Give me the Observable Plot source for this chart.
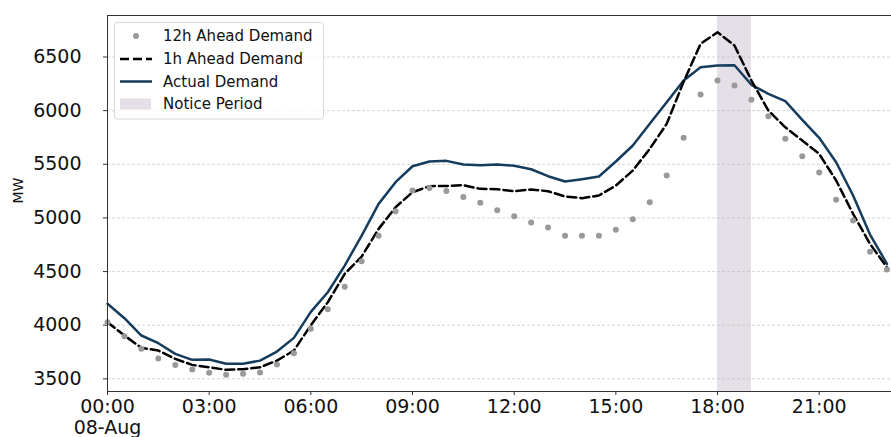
<!DOCTYPE html>
<html><head><meta charset="utf-8">
<script src="https://cdn.jsdelivr.net/npm/d3@7"></script>
<script src="https://cdn.jsdelivr.net/npm/@observablehq/plot@0.6"></script>
<style>body{margin:0;background:#fff;} #chart{width:891px;height:437px;}</style>
</head><body><div id="chart"></div>
<script>
const day = "2019-08-08";
const times = ["00:00","00:30","01:00","01:30","02:00","02:30","03:00","03:30","04:00","04:30",
  "05:00","05:30","06:00","06:30","07:00","07:30","08:00","08:30","09:00","09:30",
  "10:00","10:30","11:00","11:30","12:00","12:30","13:00","13:30","14:00","14:30",
  "15:00","15:30","16:00","16:30","17:00","17:30","18:00","18:30","19:00","19:30",
  "20:00","20:30","21:00","21:30","22:00","22:30","23:00"];
const ahead12 = [4028,3897,3780,3689,3630,3587,3556,3537,3547,3559,3633,3739,3966,4149,4358,4596,4833,5063,5255,5280,5252,5196,5141,5072,5016,4957,4910,4833,4833,4833,4889,4988,5146,5395,5747,6150,6281,6234,6101,5948,5737,5575,5423,5169,4976,4684,4519];
const ahead1 = [4028,3904,3789,3764,3686,3630,3608,3584,3590,3608,3670,3764,4000,4214,4479,4640,4898,5100,5240,5296,5298,5305,5271,5268,5249,5265,5249,5200,5184,5209,5302,5442,5644,5877,6270,6623,6731,6607,6281,6001,5845,5721,5597,5349,5038,4758,4540];
const actual = [4200,4065,3904,3832,3733,3677,3680,3640,3640,3670,3754,3882,4124,4307,4556,4836,5131,5333,5482,5526,5532,5498,5491,5498,5486,5454,5389,5339,5361,5386,5526,5675,5877,6078,6281,6405,6421,6423,6241,6157,6088,5914,5747,5519,5209,4845,4572];
const noticeStart = "18:00", noticeEnd = "19:00";
const yTicks = [3500,4000,4500,5000,5500,6000,6500];
const xTickTimes = ["00:00","03:00","06:00","09:00","12:00","15:00","18:00","21:00"];
const legendLabels = ["12h Ahead Demand","1h Ahead Demand","Actual Demand","Notice Period"];
const yLabel = "MW";

const actualColor = "#153c5c", dotColor = "#999999", noticeColor = "#e5e0e8";

const parse = d3.utcParse("%Y-%m-%d %H:%M");
const T = s => parse(day + " " + s);
const rows = times.map((t, i) => ({t: T(t), a12: ahead12[i], a1: ahead1[i], act: actual[i]}));
const fmtH = d3.utcFormat("%H:%M"), fmtD = d3.utcFormat("%d-%b");

const plot = Plot.plot({
  width: 891, height: 437,
  marginLeft: 107, marginRight: 0, marginTop: 15, marginBottom: 46,
  style: {fontFamily: "DejaVu Sans", fontSize: "19px", background: "#fff", color: "#111"},
  x: {type: "utc", domain: [T("00:00"), T("23:08")]},
  y: {domain: [3382, 6887]},
  marks: [
    Plot.rect([{x1: T(noticeStart), x2: T(noticeEnd)}], {x1: "x1", x2: "x2", fill: noticeColor}),
    Plot.gridY(yTicks, {stroke: "#bbb", strokeOpacity: 0.8, strokeDasharray: "3,2", strokeWidth: 0.8}),
    Plot.axisY(yTicks, {tickSize: 4, tickPadding: 22, label: null, fontSize: 19, stroke: "#333", tickFormat: d3.format("d")}),
    Plot.axisX(xTickTimes.map(T), {tickSize: 4, tickPadding: 2, label: null, fontSize: 19, lineHeight: 1.13, stroke: "#333",
      tickFormat: d => d.getUTCHours() === 0 ? fmtH(d) + "\n" + fmtD(d) : fmtH(d)}),
    Plot.line(rows, {x: "t", y: "act", stroke: actualColor, strokeWidth: 2.5}),
    Plot.line(rows, {x: "t", y: "a1", stroke: "#000", strokeWidth: 2.5, strokeDasharray: "9,4"}),
    Plot.dot(rows, {x: "t", y: "a12", r: 3, fill: dotColor, stroke: null}),
    Plot.frame({stroke: "#333"}),
    Plot.text([yLabel], {frameAnchor: "left", dx: -89, rotate: -90, fontSize: 14, fill: "#111"})
  ]
});
document.getElementById("chart").appendChild(plot);

// legend inside plot area
const svg = d3.select(plot);
const g = svg.append("g").attr("font-family", "DejaVu Sans").attr("font-size", 15).attr("text-anchor", "start");
g.append("rect").attr("x", 114.5).attr("y", 22.5).attr("width", 209).attr("height", 96.5).attr("rx", 3)
  .attr("fill", "#fff").attr("fill-opacity", 0.8).attr("stroke", "#d8d8d8");
const ly = [36, 59, 81.5, 104];
g.append("circle").attr("cx", 136).attr("cy", ly[0]).attr("r", 3).attr("fill", dotColor);
g.append("line").attr("x1", 120).attr("x2", 152).attr("y1", ly[1]).attr("y2", ly[1])
  .attr("stroke", "#000").attr("stroke-width", 2.5).attr("stroke-dasharray", "9,4");
g.append("line").attr("x1", 120).attr("x2", 152).attr("y1", ly[2]).attr("y2", ly[2])
  .attr("stroke", actualColor).attr("stroke-width", 2.5);
g.append("rect").attr("x", 120).attr("y", ly[3] - 5.5).attr("width", 31).attr("height", 11).attr("fill", noticeColor);
legendLabels.forEach((s, i) => {
  g.append("text").attr("x", 163).attr("y", ly[i]).attr("dy", "0.35em").attr("text-anchor", "start").attr("fill", "#111").text(s);
});
</script>
</body></html>
